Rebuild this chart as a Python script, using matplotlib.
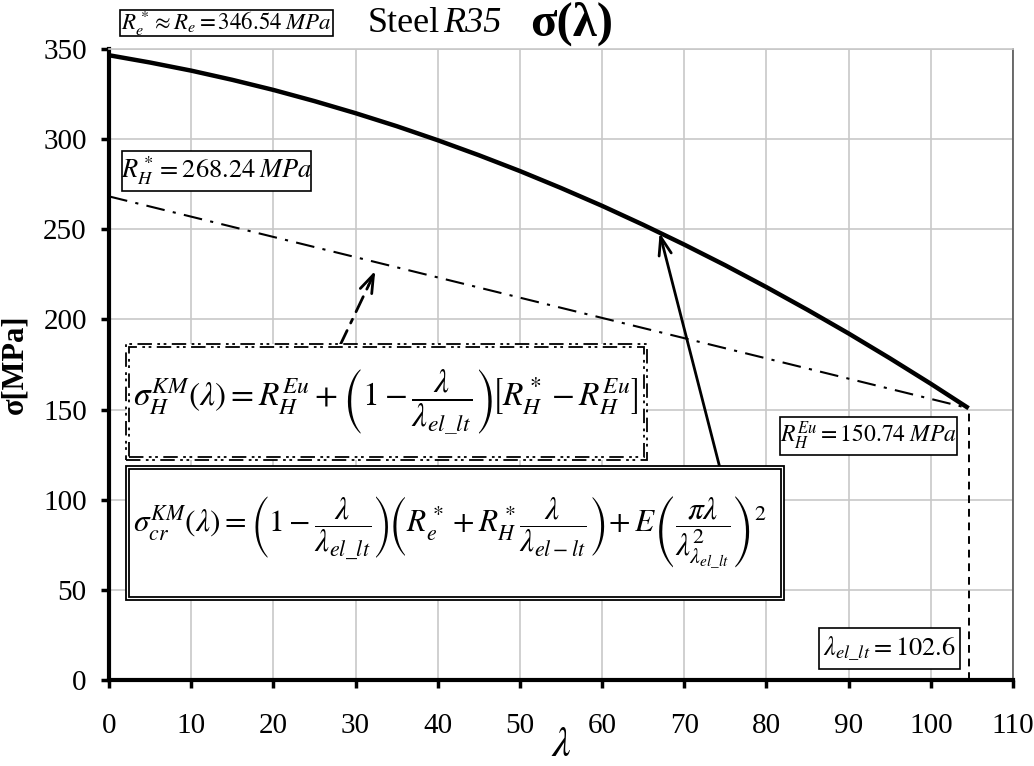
import matplotlib
matplotlib.use("Agg")
import matplotlib.pyplot as plt
from matplotlib.patches import Rectangle

plt.rcParams["font.family"] = ["Liberation Serif", "DejaVu Serif"]
plt.rcParams["mathtext.fontset"] = "stix"

# --- data -------------------------------------------------------------
lam = [0, 5, 10, 15, 20, 25, 30, 35, 40, 45, 50, 55, 60, 65, 70, 75,
       80, 85, 90, 95, 100, 104.6]
sigma_cr = [346.54, 342.5, 338.0, 332.9, 327.3, 321.1, 314.4, 307.2,
            299.4, 291.1, 282.3, 272.9, 263.0, 252.5, 241.5, 230.0,
            217.9, 205.3, 192.2, 178.5, 164.3, 150.74]
lam_H = [0, 104.6]
sigma_H = [268.24, 150.74]
lam_el = 104.6
R_H_Eu = 150.74

xticks = list(range(0, 111, 10))
yticks = list(range(0, 351, 50))

W, H = 1034, 766
fig = plt.figure(figsize=(W / 100, H / 100), dpi=100)


def fx(px):
    return px / W


def fy(py):
    return 1 - py / H


ax = fig.add_axes([fx(109), fy(680), (1013 - 109) / W, (680 - 49) / H])
ax.set_xlim(0, 110)
ax.set_ylim(0, 350)
ax.set_xticks(xticks)
ax.set_yticks(yticks)
ax.grid(True, color="#c8c8c8", lw=1.2)
ax.set_axisbelow(True)

for s in ("left", "bottom"):
    ax.spines[s].set_linewidth(3)
for s in ("top", "right"):
    ax.spines[s].set_linewidth(1.2)
    ax.spines[s].set_color("#555555")
ax.spines["top"].set_color("#c8c8c8")

ax.tick_params(axis="both", direction="out", length=6, width=2.5,
               labelsize=21)
ax.tick_params(axis="x", pad=18)
ax.tick_params(axis="y", pad=10)

# curves
ax.plot(lam, sigma_cr, color="black", lw=3.2, solid_capstyle="butt",
        zorder=3)
ax.plot(lam_H, sigma_H, color="black", lw=1.5,
        linestyle=(0, (9, 4, 1.5, 4)), zorder=3)
ax.plot([lam_el, lam_el], [0, R_H_Eu], color="black", lw=1.4,
        linestyle=(0, (4, 3)), zorder=3)

ax.set_xlabel(r"$\lambda$", fontsize=30, labelpad=-9)
ax.set_ylabel(r"σ[MPa]", fontsize=22, fontweight="bold", labelpad=10)

# arrows
ax.annotate("", xy=(67.0, 248.0), xytext=(74.3, 118.3),
            arrowprops=dict(arrowstyle="->,head_length=1.3,head_width=0.45",
                            color="black", lw=2, shrinkA=0, shrinkB=0),
            zorder=4)
ax.annotate("", xy=(31.6, 219.0), xytext=(28.1, 185.5),
            arrowprops=dict(arrowstyle="-", color="black", lw=2,
                            linestyle=(0, (6, 3, 1.5, 3)),
                            shrinkA=0, shrinkB=0), zorder=4)
ax.annotate("", xy=(32.4, 227.0), xytext=(31.6, 219.0),
            arrowprops=dict(arrowstyle="->,head_length=1.3,head_width=0.45",
                            color="black", lw=2, shrinkA=0, shrinkB=0),
            zorder=4)


def box(x0, y0, x1, y1, text, size, ls="-", lw=1.2, double=False,
        gap=3, tx=None):
    r = Rectangle((fx(x0), fy(y1)), fx(x1) - fx(x0), fy(y0) - fy(y1),
                  transform=fig.transFigure, facecolor="white",
                  edgecolor="black", lw=lw, linestyle=ls, zorder=5)
    fig.add_artist(r)
    if double:
        r2 = Rectangle((fx(x0 + gap), fy(y1 - gap)),
                       fx(x1 - gap) - fx(x0 + gap),
                       fy(y0 + gap) - fy(y1 - gap),
                       transform=fig.transFigure, facecolor="none",
                       edgecolor="black", lw=lw, linestyle=ls, zorder=6)
        fig.add_artist(r2)
    cx = (x0 + x1) / 2 if tx is None else tx
    fig.text(fx(cx), fy((y0 + y1) / 2), text, fontsize=size,
             ha="center" if tx is None else "left", va="center", zorder=7)


box(120, 10, 333, 36, r"$R_e^*\approx R_e=346.54\;MPa$", 16.5)
box(122, 151, 311, 191, r"$R_H^*=268.24\;MPa$", 19)
box(780, 417, 957, 455, r"$R_H^{Eu}=150.74\;MPa$", 17)
box(819, 628, 960, 669, r"$\lambda_{el\_lt}=102.6$", 19)

box(126, 344, 647, 460,
    r"$\sigma_H^{KM}(\lambda)=R_H^{Eu}+\left(1-\dfrac{\lambda}"
    r"{\lambda_{el\_lt}}\right)\!\left[R_H^*-R_H^{Eu}\right]$",
    24, ls=(0, (8, 3, 1.5, 2, 1.5, 3)), lw=1.3, double=True, gap=3,
    tx=133)
box(126, 466, 784, 600,
    r"$\sigma_{cr}^{KM}(\lambda)=\left(1-\dfrac{\lambda}"
    r"{\lambda_{el\_lt}}\right)\!\left(R_e^*+R_H^*\dfrac{\lambda}"
    r"{\lambda_{el-lt}}\right)\!+E\left(\dfrac{\pi\lambda}"
    r"{\lambda^2_{\lambda_{el\_lt}}}\right)^2$",
    22.5, lw=1.3, double=True, gap=3, tx=133)

# title
fig.text(fx(368), fy(23), "Steel", fontsize=26, ha="left", va="center")
fig.text(fx(443), fy(23), "R35", fontsize=26, style="italic", ha="left",
         va="center")
fig.text(fx(530), fy(24), "σ(λ)", fontsize=35, fontweight="bold",
         ha="left", va="center")

fig.savefig("out.png", dpi=100)
